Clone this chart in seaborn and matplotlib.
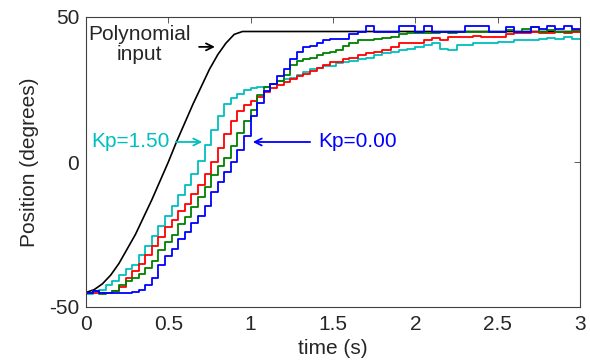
import numpy as np
import pandas as pd
import matplotlib
matplotlib.use("Agg")
import matplotlib.pyplot as plt
import seaborn as sns

# ---- data ----
t_poly = [0.00, 0.05, 0.10, 0.15, 0.20, 0.25, 0.30, 0.35, 0.40, 0.45, 0.50,
          0.55, 0.60, 0.65, 0.70, 0.75, 0.80, 0.85, 0.90, 0.95, 1.00, 3.00]
poly_input = [-45, -44, -42, -39, -35, -30, -25, -19, -13, -6.5, 0,
              7, 13.5, 20, 26, 32, 37, 41, 44, 45, 45, 45]

t_resp = [0.00, 0.04, 0.08, 0.12, 0.16, 0.20, 0.24, 0.28, 0.32, 0.36, 0.40,
          0.44, 0.48, 0.52, 0.56, 0.60, 0.64, 0.68, 0.72, 0.76, 0.80,
          0.84, 0.88, 0.92, 0.96, 1.00, 1.04, 1.08, 1.12, 1.16, 1.20,
          1.24, 1.28, 1.32, 1.36, 1.40, 1.44, 1.48, 1.52, 1.56, 1.60,
          1.65, 1.70, 1.75, 1.80, 1.85, 1.90, 1.95, 2.00, 2.05, 2.10,
          2.15, 2.20, 2.25, 2.30, 2.35, 2.40, 2.45, 2.50, 2.55, 2.60,
          2.65, 2.70, 2.75, 2.80, 2.85, 2.90, 2.95, 3.00]

kp_000 = [-45, -44.5, -45, -45, -45, -45, -45, -44.8, -44, -42.5, -40,
          -35.5, -32.5, -30, -26.5, -24, -21, -18.5, -15, -10.5, -7,
          -3.5, 0, 4, 9, 16, 20.5, 24.5, 27, 29.5, 32,
          35.5, 38, 39.5, 40, 41, 42, 42.3, 42.5, 42.5, 44,
          45, 47, 45, 45, 45, 47, 47, 45, 47, 45,
          45, 45, 45, 47, 47, 47, 45, 45, 46.5, 45,
          45, 46.5, 46, 47, 46, 47, 46, 46]

kp_050 = [-45, -44.5, -45.5, -45, -44.5, -42.5, -41, -40, -38.5, -36.5, -34,
          -30.5, -27.5, -25, -21.5, -19, -15.5, -12, -8.5, -4.5, -1.5,
          1.5, 5.5, 10, 14, 18, 23, 26, 27, 28, 30,
          33.5, 35, 35.5, 36, 37, 37.5, 38, 38.5, 40, 41,
          42, 42, 42.5, 42.7, 43, 44, 44.5, 44.5, 44.5, 44.5,
          45, 44.5, 45, 44.8, 45, 45, 44.8, 45, 45.5, 45,
          46, 46.5, 45, 45.5, 45, 45, 45.5, 45]

kp_100 = [-45, -45, -45, -45, -44.5, -43, -40, -37.5, -35, -32, -29,
          -26, -22.5, -20, -17, -14.5, -11, -8, -4, 0, 5,
          9.5, 14, 17.5, 19.5, 21, 22.5, 24, 25.5, 26.5, 27.5,
          28.5, 29.5, 30.5, 31.5, 32.5, 33.5, 34.5, 34.5, 35.5, 36,
          37, 37.6, 38, 38.6, 39.5, 41, 41, 41, 42, 42.7,
          42, 43, 43, 43, 43.5, 43, 43, 43, 44, 44.5,
          44.5, 45, 44.5, 44.5, 45, 44.5, 45, 44.8]

kp_150 = [-45.5, -44.5, -44, -42.5, -41, -39, -37, -35.5, -32, -29, -25.5,
          -22, -18.5, -15, -11.5, -8, -4, 0.5, 6, 11, 16,
          20, 22, 23.5, 25, 25.5, 26, 26, 27, 28, 28.5,
          29, 30, 31, 32, 32.5, 33, 33, 34, 34.5, 35,
          35.5, 36, 37, 37.6, 38, 38.6, 39, 39.7, 40.5, 41,
          39, 38.6, 40.3, 40.5, 41, 41, 41.2, 41.4, 41.5, 42,
          42, 42, 42.5, 42.7, 42.5, 43, 42.5, 42.4]

gain_labels = ["Kp=0.00", "Kp=0.50", "Kp=1.00", "Kp=1.50"]
x_ticks = [0, 0.5, 1, 1.5, 2, 2.5, 3]
x_ticklabels = ["0", "0.5", "1", "1.5", "2", "2.5", "3"]
y_ticks = [-50, 0, 50]
y_ticklabels = ["-50", "0", "50"]

colors = {"Kp=0.00": "#0000ff", "Kp=0.50": "#008000",
          "Kp=1.00": "#ff0000", "Kp=1.50": "#00bfbf"}

frames = []
for lab, vals in zip(gain_labels, [kp_000, kp_050, kp_100, kp_150]):
    frames.append(pd.DataFrame({"time": t_resp, "pos": vals, "gain": lab}))
resp = pd.concat(frames, ignore_index=True)
poly = pd.DataFrame({"time": t_poly, "pos": poly_input})

# ---- plot ----
sns.set_style("white")
plt.rcParams["font.family"] = ["Liberation Sans", "DejaVu Sans"]
FS = 15

fig = plt.figure(figsize=(5.9, 3.6), dpi=100)
ax = fig.add_axes([86 / 590, 53 / 360, 494 / 590, 290 / 360])

sns.lineplot(data=poly, x="time", y="pos", color="black", lw=1.2,
             ax=ax, sort=False, legend=False)
sns.lineplot(data=resp, x="time", y="pos", hue="gain", palette=colors,
             hue_order=["Kp=1.50", "Kp=1.00", "Kp=0.50", "Kp=0.00"],
             lw=1.3, ax=ax, sort=False, legend=False, drawstyle="steps-post")

ax.set_xlim(0, 3)
ax.set_ylim(-50, 50)
ax.set_xticks(x_ticks)
ax.set_xticklabels(x_ticklabels)
ax.set_yticks(y_ticks)
ax.set_yticklabels(y_ticklabels)
ax.tick_params(direction="in", length=4, width=0.6, color="#404040",
               top=True, right=True, labelsize=FS)
ax.tick_params(axis="x", pad=6)
ax.tick_params(axis="y", pad=5)
for s in ax.spines.values():
    s.set_color("#404040")
    s.set_linewidth(0.8)
    s.set_visible(True)
ax.set_xlabel("time (s)", fontsize=FS, labelpad=3)
ax.set_ylabel("Position (degrees)", fontsize=FS, labelpad=7)

# annotations
arrow_style = "->,head_length=0.5,head_width=0.25"
ax.text(0.322, 40.5, "Polynomial\ninput", fontsize=FS, ha="center", va="center",
        linespacing=1.1)
ax.annotate("", xy=(0.80, 39.7), xytext=(0.67, 39.7),
            arrowprops=dict(arrowstyle=arrow_style, color="black", lw=1.3))
ax.text(0.267, 6.9, "Kp=1.50", fontsize=FS, color="#00bfbf",
        ha="center", va="center")
ax.annotate("", xy=(0.723, 6.9), xytext=(0.528, 6.9),
            arrowprops=dict(arrowstyle=arrow_style, color="#00bfbf", lw=1.3))
ax.text(1.652, 6.9, "Kp=0.00", fontsize=FS, color="#0000ff",
        ha="center", va="center")
ax.annotate("", xy=(0.996, 6.9), xytext=(1.378, 6.9),
            arrowprops=dict(arrowstyle=arrow_style, color="#0000ff", lw=1.3))

fig.savefig("out.png", dpi=100)
